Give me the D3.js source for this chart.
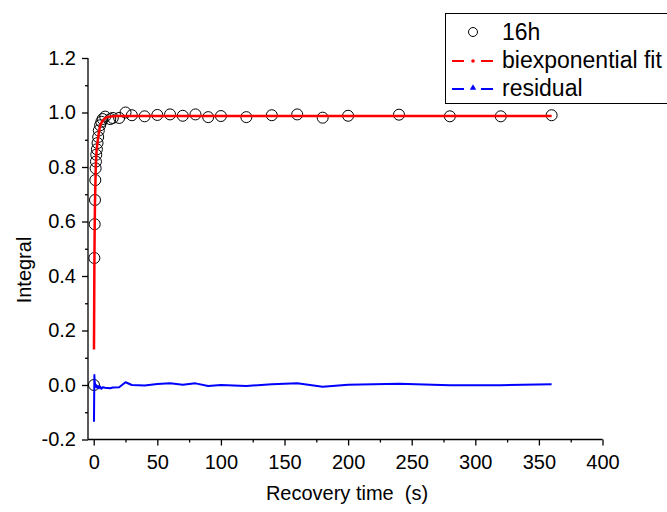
<!DOCTYPE html>
<html><head><meta charset="utf-8">
<script src="https://cdn.jsdelivr.net/npm/d3@7"></script>
<style>body{margin:0;background:#fff}svg{display:block;font-family:"Liberation Sans",Arial,sans-serif}</style>
</head><body><svg id="c" width="667" height="512"></svg>
<script>
const times = [0.2,0.5,0.75,1,1.25,1.5,1.75,2,2.5,3,3.5,4,5,6,7,9,13,15,20,25,30,40,50,60,70,80,90,100,120,140,160,180,200,240,280,320,360];
const integral = [0.0,0.466,0.59,0.679,0.752,0.795,0.82,0.845,0.865,0.888,0.91,0.934,0.953,0.966,0.976,0.985,0.976,0.98,0.98,1.0,0.99,0.986,0.991,0.993,0.988,0.993,0.983,0.987,0.983,0.99,0.993,0.981,0.988,0.992,0.986,0.986,0.99];
const residual = [-0.135,0.037,0.012,0.006,0.0,-0.004,0.0,-0.008,-0.003,-0.01,-0.004,-0.012,-0.006,-0.014,-0.008,-0.01,-0.012,-0.009,-0.008,0.01,0.0,-0.002,0.004,0.006,0.001,0.006,-0.004,0.0,-0.004,0.003,0.006,-0.006,0.001,0.005,-0.001,-0.001,0.003];
const fitTimes = [0.2,0.5,0.75,1,1.5,2,3,4,5,6,8,10,15,20,360];
const fitValues = [0.13,0.43,0.58,0.67,0.78,0.84,0.89,0.925,0.95,0.962,0.975,0.982,0.986,0.987,0.987];
const xTicks = [0,50,100,150,200,250,300,350,400];
const yTicks = [-0.2,0.0,0.2,0.4,0.6,0.8,1.0,1.2];
const legendLabels = ["16h","biexponential fit","residual"];

const svg = d3.select("#c");
const x = d3.scaleLinear().domain([-4.5,400]).range([88,602.5]);
const y = d3.scaleLinear().domain([-0.2,1.2]).range([439.5,58]);

const FONT = "'Liberation Sans',Arial,sans-serif";
const xAxis = d3.axisBottom(x).tickValues(xTicks).tickSize(6).tickPadding(9).tickFormat(d3.format("d"));
const xMinor = d3.axisBottom(x).tickValues(d3.range(25,400,50)).tickSize(3).tickFormat("");
const yAxis = d3.axisLeft(y).tickValues(yTicks).tickSize(6).tickPadding(6).tickFormat(d=>d3.format(".1f")(d).replace("−","-"));
const yMinor = d3.axisLeft(y).tickValues(d3.range(-0.1,1.2,0.2)).tickSize(3).tickFormat("");

function style(g){
  g.select(".domain").attr("stroke","#000").attr("stroke-width",1.3);
  g.selectAll(".tick line").attr("stroke","#000").attr("stroke-width",1.3);
  g.selectAll(".tick text").attr("fill","#000").style("font-size","20px").style("font-family",FONT);
}
svg.append("g").attr("transform","translate(0,439.5)").call(xMinor).call(style).select(".domain").remove();
svg.append("g").attr("transform","translate(88,0)").call(yMinor).call(style).select(".domain").remove();
const gx = svg.append("g").attr("transform","translate(0,439.5)").call(xAxis).call(style);
gx.select(".domain").attr("d","M88,0H602.5");
const gy = svg.append("g").attr("transform","translate(88,0)").call(yAxis).call(style);
gy.select(".domain").attr("d","M0,58V439.5");

// titles
svg.append("text").attr("x",347).attr("y",500).attr("text-anchor","middle").style("font-size","20px").style("white-space","pre").text("Recovery time  (s)");
svg.append("text").attr("transform","translate(31,270) rotate(-90)").attr("text-anchor","middle").style("font-size","20px").text("Integral");

// data circles
svg.append("g").selectAll("circle").data(times).join("circle")
  .attr("cx",(d)=>x(d)).attr("cy",(d,i)=>y(integral[i])).attr("r",5.5)
  .attr("fill","none").attr("stroke","#000").attr("stroke-width",1);

// fit line
const line = d3.line().x(d=>x(d[0])).y(d=>y(d[1])).curve(d3.curveMonotoneX);
svg.append("path").datum(fitTimes.map((t,i)=>[t,fitValues[i]])).attr("d",line)
  .attr("fill","none").attr("stroke","#ff0000").attr("stroke-width",2.5);

// residual line
const lineR = d3.line().x(d=>x(d[0])).y(d=>y(d[1]));
svg.append("path").datum(times.map((t,i)=>[t,residual[i]])).attr("d",lineR)
  .attr("fill","none").attr("stroke","#0000ff").attr("stroke-width",2).attr("stroke-linejoin","round");

// legend
const lg = svg.append("g");
lg.append("rect").attr("x",445.5).attr("y",13.5).attr("width",240).attr("height",90).attr("fill","#fff").attr("stroke","#000").attr("stroke-width",1);
lg.append("circle").attr("cx",473).attr("cy",32).attr("r",4.5).attr("fill","none").attr("stroke","#000").attr("stroke-width",1);
lg.append("line").attr("x1",452).attr("x2",494).attr("y1",61).attr("y2",61).attr("stroke","#ff0000").attr("stroke-width",2).attr("stroke-dasharray","12,17,12");
lg.append("circle").attr("cx",473).attr("cy",61).attr("r",1.8).attr("fill","#ff0000");
lg.append("line").attr("x1",452).attr("x2",494).attr("y1",89).attr("y2",89).attr("stroke","#0000ff").attr("stroke-width",2).attr("stroke-dasharray","12,17,12");
lg.append("path").attr("d",d3.symbol(d3.symbolTriangle,18)()).attr("transform","translate(473,88)").attr("fill","#0000ff");
const ly = [40,68,96];
legendLabels.forEach((t,i)=>lg.append("text").attr("x",502).attr("y",ly[i]).style("font-size","23px").text(t));
</script></body></html>
